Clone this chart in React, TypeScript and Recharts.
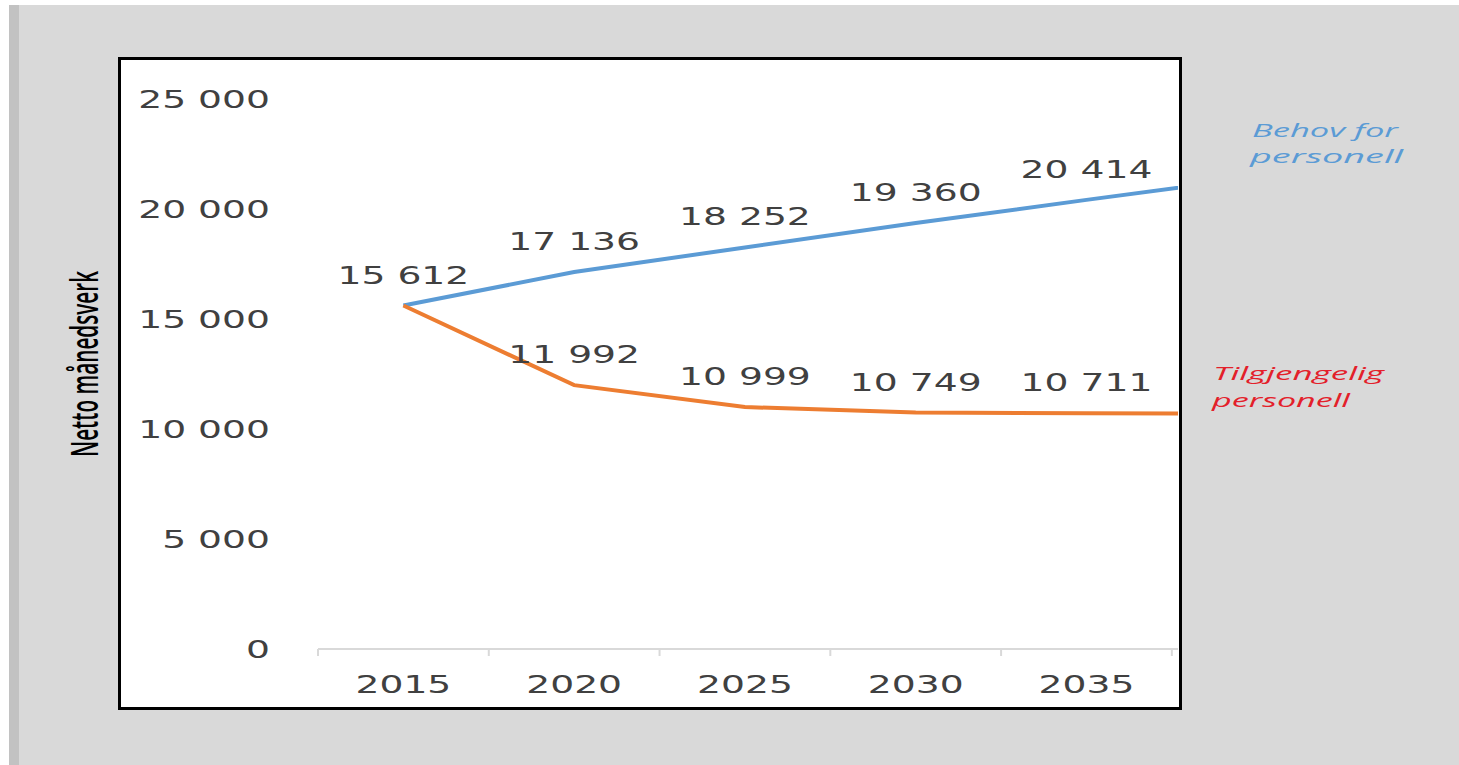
import { LineChart, Line, XAxis, YAxis, LabelList } from 'recharts';

// values (2040 is the clipped continuation at the right edge)
const years = [2015, 2020, 2025, 2030, 2035, 2040];
const behov = [15612, 17136, 18252, 19360, 20414, 21450];
const tilgjengelig = [15612, 11992, 10999, 10749, 10711, 10690];

const yTicks = [0, 5000, 10000, 15000, 20000, 25000];
const xLabels = [2015, 2020, 2025, 2030, 2035];
const xBoundaries = [2012.5, 2017.5, 2022.5, 2027.5, 2032.5, 2037.5];

const data = years.map((year, i) => ({
  year,
  behov: behov[i],
  tilgjengelig: tilgjengelig[i],
}));

const BLUE = '#5b9bd5';
const ORANGE = '#ed7d31';
const RED = '#e3202a';
const TEXT = '#404040';
const STRETCH = 1.57;

const fmt = (v: number) => String(v).replace(/\B(?=(\d{3})+(?!\d))/g, ' ');

const WideText = ({ x, y, anchor, children }: any) => (
  <text
    transform={`translate(${x},${y}) scale(${STRETCH},1)`}
    textAnchor={anchor}
    fontFamily="DejaVu Sans"
    fontSize={24}
    fill={TEXT}
  >
    {children}
  </text>
);

const XTick = (props: any) => {
  const { x, y, payload } = props;
  if (xBoundaries.includes(payload.value)) {
    return <line x1={x} x2={x} y1={y} y2={y + 7} stroke="#d9d9d9" strokeWidth={2} />;
  }
  return (
    <WideText x={x} y={y + 44} anchor="middle">
      {payload.value}
    </WideText>
  );
};

const YTick = (props: any) => {
  const { x, y, payload } = props;
  return (
    <WideText x={x - 48} y={y + 8.7} anchor="end">
      {fmt(payload.value)}
    </WideText>
  );
};

const pointLabel = (skipFirst: boolean) => (props: any) => {
  const { x, y, value, index } = props;
  if (!xLabels.includes(years[index])) return null;
  if (skipFirst && index === 0) return null;
  return (
    <WideText x={x} y={y - 22} anchor="middle">
      {fmt(value)}
    </WideText>
  );
};

export default function App() {
  return (
    <div
      style={{
        position: 'fixed',
        left: 0,
        top: 0,
        width: 1459,
        height: 765,
        background: '#ffffff',
        overflow: 'hidden',
      }}
    >
      <div style={{ position: 'absolute', left: 9, top: 5, right: 0, bottom: 0, background: '#d9d9d9' }} />
      <div style={{ position: 'absolute', left: 9, top: 5, width: 10, bottom: 0, background: '#c2c2c2' }} />

      <div
        style={{
          position: 'absolute',
          left: 118,
          top: 57,
          width: 1064,
          height: 653,
          boxSizing: 'border-box',
          border: '3px solid #000',
          background: '#fff',
        }}
      >
        <LineChart
          width={1058}
          height={647}
          data={data}
          margin={{ top: 39, right: 1, bottom: 0, left: 0 }}
        >
          <XAxis
            dataKey="year"
            type="number"
            domain={[2012.5, 2037.68]}
            allowDataOverflow
            ticks={[...xBoundaries, ...xLabels].sort((a, b) => a - b)}
            interval={0}
            tickSize={0}
            tickMargin={0}
            tickLine={false}
            axisLine={{ stroke: '#d9d9d9', strokeWidth: 2 }}
            height={58}
            tick={XTick}
          />
          <YAxis
            type="number"
            domain={[0, 25000]}
            ticks={yTicks}
            interval={0}
            width={197}
            tickSize={0}
            tickMargin={0}
            tickLine={false}
            axisLine={false}
            tick={YTick}
          />
          <Line
            dataKey="behov"
            stroke={BLUE}
            strokeWidth={4}
            dot={false}
            type="linear"
            isAnimationActive={false}
          >
            <LabelList dataKey="behov" content={pointLabel(false)} />
          </Line>
          <Line
            dataKey="tilgjengelig"
            stroke={ORANGE}
            strokeWidth={4}
            dot={false}
            type="linear"
            isAnimationActive={false}
          >
            <LabelList dataKey="tilgjengelig" content={pointLabel(true)} />
          </Line>
        </LineChart>
      </div>

      <svg
        width={1459}
        height={765}
        style={{ position: 'absolute', left: 0, top: 0, pointerEvents: 'none' }}
      >
        <text
          transform="translate(98,457) rotate(-90) scale(1,1.6)"
          fontFamily="Open Sans"
          fontWeight={600}
          fontSize={24}
          textLength={186}
          lengthAdjust="spacingAndGlyphs"
          fill="#000"
        >
          Netto månedsverk
        </text>
        <g fontFamily="Open Sans" fontStyle="italic" fontSize={19}>
          <text x={1252} y={137} fill={BLUE} textLength={146} lengthAdjust="spacingAndGlyphs">
            Behov for
          </text>
          <text x={1250} y={163} fill={BLUE} textLength={153} lengthAdjust="spacingAndGlyphs">
            personell
          </text>
          <text x={1213} y={380} fill={RED} textLength={171} lengthAdjust="spacingAndGlyphs">
            Tilgjengelig
          </text>
          <text x={1212} y={407} fill={RED} textLength={138} lengthAdjust="spacingAndGlyphs">
            personell
          </text>
        </g>
      </svg>
    </div>
  );
}
